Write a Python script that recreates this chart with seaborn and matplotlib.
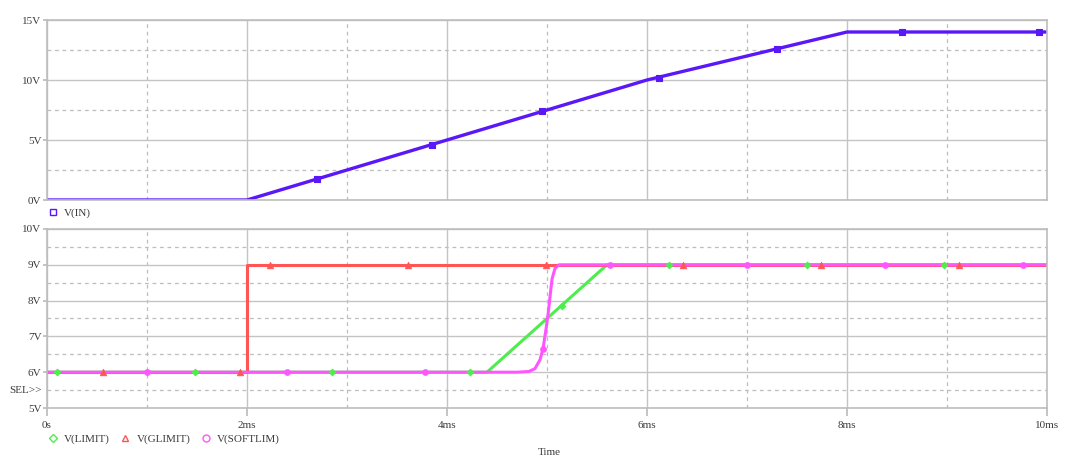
import numpy as np
import pandas as pd
import matplotlib
matplotlib.use("Agg")
import matplotlib.pyplot as plt
import seaborn as sns
from matplotlib.lines import Line2D
from matplotlib.ticker import MultipleLocator, FixedLocator

# ---- data (time in ms, voltages in V) ----
vin_t = [0.0, 2.0, 6.0, 8.0, 10.0]
vin_v = [0.0, 0.0, 10.0, 14.0, 14.0]
vin_mark_t = [2.7, 3.85, 4.95, 6.12, 7.3, 8.55, 9.92]
vin_mark_v = [1.75, 4.6, 7.4, 10.2, 12.6, 14.0, 14.0]

limit_t = [0.0, 4.4, 5.6, 10.0]
limit_v = [6.0, 6.0, 9.0, 9.0]
limit_mark_t = [0.1, 1.48, 2.85, 4.23, 5.15, 6.22, 7.6, 8.97]
limit_mark_v = [6.0, 6.0, 6.0, 6.0, 7.85, 9.0, 9.0, 9.0]

glimit_t = [0.0, 2.0, 2.0, 10.0]
glimit_v = [6.0, 6.0, 9.0, 9.0]
glimit_mark_t = [0.56, 1.93, 2.23, 3.61, 4.99, 6.36, 7.74, 9.12]
glimit_mark_v = [6.0, 6.0, 9.0, 9.0, 9.0, 9.0, 9.0, 9.0]

soft_t = [0.0, 4.70, 4.82, 4.88, 4.93, 4.96, 4.99, 5.01, 5.03, 5.05, 5.08, 5.12, 10.0]
soft_v = [6.0, 6.0, 6.02, 6.1, 6.35, 6.65, 7.2, 7.6, 8.1, 8.6, 8.9, 9.0, 9.0]
soft_mark_t = [1.0, 2.4, 3.78, 4.96, 5.63, 7.0, 8.38, 9.76]
soft_mark_v = [6.0, 6.0, 6.0, 6.65, 9.0, 9.0, 9.0, 9.0]

x_ticks = [0, 2, 4, 6, 8, 10]
x_labels = ["0s", "2ms", "4ms", "6ms", "8ms", "10ms"]
top_ticks = [0, 5, 10, 15]
top_labels = ["0V", "5V", "10V", "15V"]
bot_ticks = [5, 6, 7, 8, 9, 10]
bot_labels = ["5V", "6V", "7V", "8V", "9V", "10V"]

c_in = "#5a18f8"
c_limit = "#4ded4d"
c_glimit = "#ff5555"
c_soft = "#ff55ff"
txt_c = "#3a3a3a"

sns.set_theme(style="white")
plt.rcParams["font.family"] = ["Liberation Serif", "DejaVu Serif"]

fig = plt.figure(figsize=(10.8, 4.61), dpi=100)
ax1 = fig.add_axes([47 / 1080, 1 - 200 / 461, 1000 / 1080, 180 / 461])
ax2 = fig.add_axes([47 / 1080, 1 - 408 / 461, 1000 / 1080, 179 / 461])


def style_axes(ax, yticks, ylabels, ylim, show_x):
    ax.set_xlim(0, 10)
    ax.set_ylim(*ylim)
    ax.xaxis.set_major_locator(FixedLocator(x_ticks))
    ax.xaxis.set_minor_locator(MultipleLocator(1))
    ax.yaxis.set_major_locator(FixedLocator(yticks))
    ax.yaxis.set_minor_locator(MultipleLocator((yticks[1] - yticks[0]) / 2))
    ax.grid(True, which="major", color="#c4c4c4", lw=1.0, ls="-")
    ax.grid(True, which="minor", color="#bdbdbd", lw=0.9, ls=(0, (3, 3)))
    ax.set_axisbelow(True)
    for s in ax.spines.values():
        s.set_color("#bdbdbd")
        s.set_linewidth(1.2)
    ax.set_yticklabels(ylabels)
    ax.tick_params(axis="y", which="major", length=3, color="#bdbdbd",
                   labelsize=8, labelcolor=txt_c, pad=1, left=True)
    ax.tick_params(axis="y", which="minor", length=0)
    ax.tick_params(axis="x", which="minor", length=0)
    if show_x:
        ax.set_xticklabels(x_labels)
        ax.tick_params(axis="x", which="major", length=6, color="#bdbdbd",
                       labelsize=8, labelcolor=txt_c, pad=3, bottom=True)
    else:
        ax.tick_params(axis="x", which="major", length=0, labelbottom=False)
    ax.set_xlabel("")
    ax.set_ylabel("")


# ---- top panel: V(IN) ----
sns.lineplot(x=vin_t, y=vin_v, ax=ax1, color=c_in, lw=2.4, estimator=None, sort=False)
sns.scatterplot(x=vin_mark_t, y=vin_mark_v, ax=ax1, marker="s", s=18, color=c_in,
                edgecolor=c_in, linewidth=0.8, zorder=5)
style_axes(ax1, top_ticks, top_labels, (0, 15), False)
h_in = [Line2D([], [], ls="none", marker="s", mfc="none", mec=c_in, ms=5, mew=1)]
ax1.legend(h_in, ["V(IN)"], loc="upper left", bbox_to_anchor=(-0.003, -0.02),
           frameon=False, fontsize=8, handletextpad=0.6, handlelength=0.8,
           borderaxespad=0, labelcolor=txt_c)

# ---- bottom panel ----
sns.lineplot(x=limit_t, y=limit_v, ax=ax2, color=c_limit, lw=2.2, estimator=None, sort=False)
sns.lineplot(x=glimit_t, y=glimit_v, ax=ax2, color=c_glimit, lw=2.2, estimator=None, sort=False)
sns.lineplot(x=soft_t, y=soft_v, ax=ax2, color=c_soft, lw=2.2, estimator=None, sort=False)
sns.scatterplot(x=limit_mark_t, y=limit_mark_v, ax=ax2, marker="D", s=14, color=c_limit,
                edgecolor=c_limit, zorder=5)
sns.scatterplot(x=glimit_mark_t, y=glimit_mark_v, ax=ax2, marker="^", s=24, color=c_glimit,
                edgecolor=c_glimit, zorder=5)
sns.scatterplot(x=soft_mark_t, y=soft_mark_v, ax=ax2, marker="o", s=20, color=c_soft,
                edgecolor=c_soft, zorder=6)
style_axes(ax2, bot_ticks, bot_labels, (5, 10), True)
ax2.text(-0.005, 5.5, "SEL>>", transform=ax2.get_yaxis_transform(), ha="right",
         va="center", fontsize=8, color=txt_c)

h_bot = [
    Line2D([], [], ls="none", marker="D", mfc="none", mec=c_limit, ms=4, mew=1),
    Line2D([], [], ls="none", marker="^", mfc="none", mec=c_glimit, ms=5, mew=1),
    Line2D([], [], ls="none", marker="o", mfc="none", mec=c_soft, ms=5, mew=1),
]
ax2.legend(h_bot, ["V(LIMIT)", "V(GLIMIT)", "V(SOFTLIM)"], loc="upper left",
           bbox_to_anchor=(-0.003, -0.12), frameon=False, fontsize=8, ncol=3,
           handletextpad=0.6, handlelength=0.8, columnspacing=1.0,
           borderaxespad=0, labelcolor=txt_c)

fig.text(549 / 1080, 1 - 452 / 461, "Time", ha="center", va="center",
         fontsize=8, color=txt_c)

fig.savefig("out.png", dpi=100, facecolor="white")
